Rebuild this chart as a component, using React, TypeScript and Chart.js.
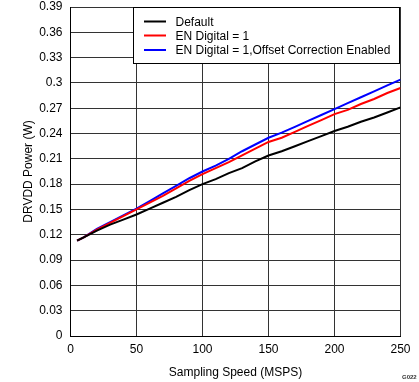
import React, { useEffect, useRef } from "react";
import { Chart, registerables } from "chart.js";

Chart.register(...registerables);

const speeds = [5, 10, 20, 30, 40, 50, 60, 70, 80, 90, 100, 110, 120, 130, 140, 150, 160, 170, 180, 190, 200, 210, 220, 230, 240, 250];
const defaultPower = [0.113, 0.117, 0.125, 0.132, 0.138, 0.144, 0.151, 0.158, 0.165, 0.173, 0.180, 0.186, 0.193, 0.199, 0.207, 0.214, 0.219, 0.225, 0.231, 0.237, 0.243, 0.248, 0.254, 0.259, 0.265, 0.271];
const enDigitalPower = [0.113, 0.117, 0.126, 0.134, 0.142, 0.150, 0.158, 0.166, 0.175, 0.184, 0.192, 0.199, 0.206, 0.214, 0.222, 0.230, 0.235, 0.242, 0.249, 0.256, 0.263, 0.268, 0.275, 0.281, 0.288, 0.294];
const offsetCorrPower = [0.113, 0.117, 0.127, 0.135, 0.143, 0.151, 0.160, 0.169, 0.178, 0.187, 0.195, 0.202, 0.210, 0.219, 0.227, 0.235, 0.241, 0.248, 0.255, 0.262, 0.269, 0.276, 0.283, 0.290, 0.297, 0.304];

const seriesNames = ["Default", "EN Digital = 1", "EN Digital = 1,Offset Correction Enabled"];
const seriesColors = ["#000000", "#ff0000", "#0000ff"];
const xTicks = [0, 50, 100, 150, 200, 250];
const yTicks = [0, 0.03, 0.06, 0.09, 0.12, 0.15, 0.18, 0.21, 0.24, 0.27, 0.3, 0.33, 0.36, 0.39];
const yTickLabels = ["0", "0.03", "0.06", "0.09", "0.12", "0.15", "0.18", "0.21", "0.24", "0.27", "0.3", "0.33", "0.36", "0.39"];
const xTitle = "Sampling Speed (MSPS)";
const yTitle = "DRVDD Power (W)";
const figId = "G022";

const FONT = "Liberation Sans, Arial, sans-serif";

const overlayPlugin = {
  id: "overlay",
  afterDraw(chart: any) {
    const ctx = chart.ctx as CanvasRenderingContext2D;
    const area = chart.chartArea;
    ctx.save();
    // legend box
    const bx = 133.5, by = area.top, bw = 266, bh = 56;
    ctx.fillStyle = "#ffffff";
    ctx.fillRect(bx, by, bw, bh);
    ctx.strokeStyle = "#000000";
    ctx.lineWidth = 1;
    ctx.strokeRect(bx, by + 0.5, bw, bh);
    ctx.font = `12px ${FONT}`;
    ctx.textBaseline = "middle";
    ctx.textAlign = "left";
    const rows = [by + 14.5, by + 28.5, by + 43];
    seriesNames.forEach((name, i) => {
      ctx.strokeStyle = seriesColors[i];
      ctx.lineWidth = 2;
      ctx.beginPath();
      ctx.moveTo(144, rows[i]);
      ctx.lineTo(166, rows[i]);
      ctx.stroke();
      ctx.fillStyle = "#000000";
      ctx.fillText(name, 175.5, rows[i] + 1);
    });
    // axis titles
    ctx.fillStyle = "#000000";
    ctx.font = `12px ${FONT}`;
    ctx.textAlign = "center";
    ctx.textBaseline = "middle";
    ctx.fillText(xTitle, (area.left + area.right) / 2, 373);
    ctx.save();
    ctx.translate(29, (area.top + area.bottom) / 2);
    ctx.rotate(-Math.PI / 2);
    ctx.fillText(yTitle, 0, 0);
    ctx.restore();
    // figure id
    ctx.font = `bold 6px ${FONT}`;
    ctx.fillStyle = "#333333";
    ctx.textAlign = "left";
    ctx.fillText(figId, 402, 377);
    ctx.restore();
  },
};

export default function App() {
  const ref = useRef<HTMLCanvasElement | null>(null);
  useEffect(() => {
    if (!ref.current) return;
    const mk = (vals: number[]) => speeds.map((x, i) => ({ x, y: vals[i] }));
    const chart = new Chart(ref.current, {
      type: "line",
      data: {
        datasets: [
          { label: seriesNames[0], data: mk(defaultPower), borderColor: seriesColors[0], borderWidth: 2, pointRadius: 0, tension: 0 },
          { label: seriesNames[1], data: mk(enDigitalPower), borderColor: seriesColors[1], borderWidth: 2, pointRadius: 0, tension: 0 },
          { label: seriesNames[2], data: mk(offsetCorrPower), borderColor: seriesColors[2], borderWidth: 2, pointRadius: 0, tension: 0 },
        ],
      },
      options: {
        animation: false,
        responsive: false,
        devicePixelRatio: 1,
        layout: { padding: { left: 0, right: 18.5, top: 7, bottom: 0 } },
        plugins: { legend: { display: false }, tooltip: { enabled: false } },
        scales: {
          x: {
            type: "linear",
            min: 0,
            max: 250,
            afterBuildTicks: (s: any) => { s.ticks = xTicks.map((v) => ({ value: v })); },
            afterFit: (s: any) => { s.height = 46; s.paddingLeft = 0; s.paddingRight = 0; },
            ticks: { color: "#000", font: { family: FONT, size: 12 }, padding: 6, maxRotation: 0 },
            grid: { color: "#333333", lineWidth: 1, drawTicks: false },
            border: { color: "#000000", width: 1 },
          },
          y: {
            type: "linear",
            min: 0,
            max: 0.39,
            afterBuildTicks: (s: any) => { s.ticks = yTicks.map((v) => ({ value: v })); },
            afterFit: (s: any) => { s.width = 70.5; s.paddingTop = 0; s.paddingBottom = 0; },
            ticks: {
              color: "#000",
              font: { family: FONT, size: 12 },
              padding: 8,
              callback: (v: any) => {
                const i = yTicks.findIndex((t) => Math.abs(t - Number(v)) < 1e-6);
                return i >= 0 ? yTickLabels[i] : "";
              },
            },
            grid: { color: "#333333", lineWidth: 1, drawTicks: false },
            border: { color: "#000000", width: 1 },
          },
        },
      },
      plugins: [overlayPlugin],
    } as any);
    return () => chart.destroy();
  }, []);
  return (
    <div style={{ position: "fixed", left: 0, top: 0, width: 419, height: 382, background: "#fff" }}>
      <canvas ref={ref} width={419} height={382} style={{ width: 419, height: 382, display: "block" }} />
    </div>
  );
}
